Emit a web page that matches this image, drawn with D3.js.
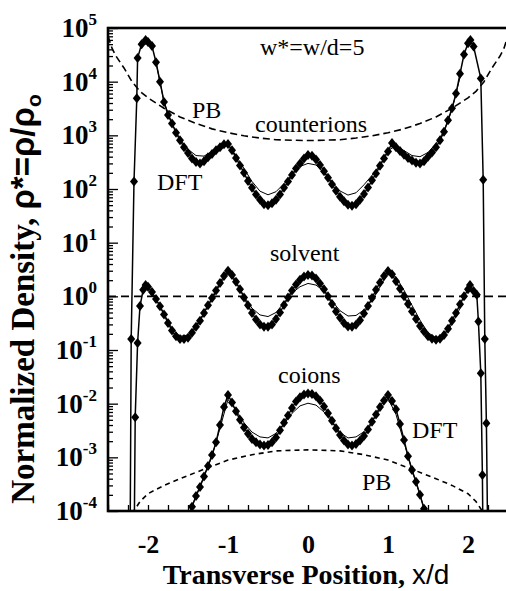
<!DOCTYPE html>
<html>
<head>
<meta charset="utf-8">
<script src="https://cdn.jsdelivr.net/npm/d3@7"></script>
<style>
  body { margin: 0; background: #fff; }
  svg { display: block; }
</style>
</head>
<body>
<div id="chart"></div>
<script>
// counterions, DFT with markers
const ctrX = [-2.225, -2.21, -2.175, -2.14, -2.13, -2.08, -2.03,
  -2.00, -1.95, -1.90, -1.85, -1.80, -1.75, -1.70, -1.65, -1.60, -1.55, -1.50, -1.45, -1.40, -1.35, -1.30,
  -1.25, -1.20, -1.15, -1.10, -1.05, -1.00, -0.95, -0.90, -0.85, -0.80, -0.75, -0.70, -0.65, -0.60, -0.55,
  -0.50, -0.45, -0.40, -0.35, -0.30, -0.25, -0.20, -0.15, -0.10, -0.05, 0.00,
  0.05, 0.10, 0.15, 0.20, 0.25, 0.30, 0.35, 0.40, 0.45, 0.50, 0.55, 0.60, 0.65, 0.70, 0.75, 0.80, 0.85,
  0.90, 0.95, 1.00, 1.05, 1.10, 1.15, 1.20, 1.25, 1.30, 1.35, 1.40, 1.45, 1.50, 1.55, 1.60, 1.65, 1.70,
  1.75, 1.80, 1.85, 1.90, 1.95, 2.00,
  2.03, 2.07, 2.16, 2.19, 2.21, 2.23, 2.25]
const ctrDFT = [1e-5, 0.16, 138, 4900, 2.75e4, 5.0e4, 6.0e4,
  5.5e4, 4.6e4, 2.3e4, 1.0e4, 4200, 2400, 1660, 1120, 810, 600, 470, 370, 320, 300, 330,
  390, 450, 525, 600, 680, 690, 525, 380, 275, 200, 141, 105, 79, 63, 52,
  50, 54, 63, 79, 105, 138, 182, 240, 300, 370, 430,
  415, 355, 280, 215, 162, 123, 93, 72, 59, 51, 49, 52, 63, 81, 107, 145, 195,
  270, 370, 500, 720, 600, 510, 435, 380, 340, 310, 300, 330, 400, 480, 600, 810, 1170,
  1900, 3200, 6000, 1.4e4, 3.2e4, 5.2e4,
  6.0e4, 4.5e4, 1.15e4, 148, 0.16, 4.3e-3, 1e-5]

// solvent, DFT with markers
const solX = [-2.175, -2.16, -2.13, -2.10, -2.06, -2.03,
  -2.00, -1.95, -1.90, -1.85, -1.80, -1.75, -1.70, -1.65, -1.60, -1.55, -1.50, -1.45, -1.40, -1.35, -1.30,
  -1.25, -1.20, -1.15, -1.10, -1.05, -1.00, -0.95, -0.90, -0.85, -0.80, -0.75, -0.70, -0.65, -0.60, -0.55,
  -0.50, -0.45, -0.40, -0.35, -0.30, -0.25, -0.20, -0.15, -0.10, -0.05, 0.00,
  0.05, 0.10, 0.15, 0.20, 0.25, 0.30, 0.35, 0.40, 0.45, 0.50, 0.55, 0.60, 0.65, 0.70, 0.75, 0.80, 0.85,
  0.90, 0.95, 1.00, 1.05, 1.10, 1.15, 1.20, 1.25, 1.30, 1.35, 1.40, 1.45, 1.50, 1.55, 1.60, 1.65, 1.70,
  1.75, 1.80, 1.85, 1.90, 1.95, 2.00,
  2.025, 2.07, 2.11, 2.13, 2.16, 2.18, 2.19]
const solDFT = [1e-5, 5.6e-3, 0.135, 0.66, 1.32, 1.62,
  1.51, 1.20, 0.89, 0.65, 0.46, 0.32, 0.23, 0.18, 0.16, 0.16, 0.17, 0.21, 0.27, 0.35, 0.49,
  0.68, 0.93, 1.29, 1.78, 2.4, 3.0, 2.5, 1.86, 1.35, 0.95, 0.68, 0.49, 0.37, 0.30, 0.27,
  0.27, 0.30, 0.38, 0.50, 0.69, 0.95, 1.29, 1.66, 2.04, 2.34, 2.5,
  2.45, 2.14, 1.74, 1.35, 1.0, 0.72, 0.52, 0.40, 0.32, 0.275, 0.27, 0.295, 0.36, 0.48, 0.66, 0.93, 1.32,
  1.82, 2.4, 2.95, 2.57, 1.9, 1.38, 1.0, 0.72, 0.52, 0.38, 0.28, 0.22, 0.18, 0.162, 0.155, 0.162, 0.19,
  0.25, 0.35, 0.49, 0.71, 1.0, 1.35,
  1.62, 1.26, 1.07, 0.34, 0.037, 4.7e-4, 1e-5]

// coions, DFT with markers
const coX = [-1.50, -1.45, -1.40, -1.35, -1.30, -1.25, -1.20, -1.15, -1.10, -1.05, -1.00,
  -0.95, -0.90, -0.85, -0.80, -0.75, -0.70, -0.65, -0.60, -0.55, -0.50, -0.45, -0.40, -0.35, -0.30,
  -0.25, -0.20, -0.15, -0.10, -0.05, 0.00,
  0.05, 0.10, 0.15, 0.20, 0.25, 0.30, 0.35, 0.40, 0.45, 0.50, 0.55, 0.60, 0.65, 0.70, 0.75,
  0.80, 0.85, 0.90, 0.95, 1.00, 1.05, 1.10, 1.15, 1.20, 1.25, 1.30, 1.35, 1.40, 1.45, 1.50]
const coDFT = [6.3e-5, 1.2e-4, 1.9e-4, 2.8e-4, 4.4e-4, 6.9e-4, 1.1e-3, 1.9e-3, 4.0e-3, 8.7e-3, 1.45e-2,
  1.05e-2, 7.2e-3, 5.0e-3, 3.6e-3, 2.75e-3, 2.2e-3, 1.9e-3, 1.74e-3, 1.66e-3, 1.7e-3, 1.9e-3, 2.35e-3, 3.2e-3, 4.4e-3,
  6.0e-3, 8.3e-3, 1.1e-2, 1.32e-2, 1.48e-2, 1.55e-2,
  1.51e-2, 1.38e-2, 1.15e-2, 8.9e-3, 6.6e-3, 4.8e-3, 3.5e-3, 2.6e-3, 2.05e-3, 1.74e-3, 1.66e-3, 1.78e-3, 2.05e-3, 2.5e-3, 3.3e-3,
  4.6e-3, 6.3e-3, 8.7e-3, 1.15e-2, 1.45e-2, 1.12e-2, 7.9e-3, 4.2e-3, 2.1e-3, 1.05e-3, 5.8e-4, 3.5e-4, 2.0e-4, 1.1e-4, 6.3e-5]

// second DFT result, thin lines without markers
const thinX = [-1.9, -1.8, -1.7, -1.6, -1.5, -1.4, -1.3, -1.2, -1.1, -1.0, -0.9, -0.8, -0.7, -0.6, -0.5,
  -0.4, -0.3, -0.2, -0.1, 0.0, 0.1, 0.2, 0.3, 0.4, 0.5, 0.6, 0.7, 0.8, 0.9, 1.0, 1.1, 1.2, 1.3, 1.4,
  1.5, 1.6, 1.7, 1.8, 1.9]
const ctrThin = [2.3e4, 4200, 1660, 850, 550, 420, 410, 500, 620, 680, 420, 240, 138, 91, 78,
  89, 126, 186, 263, 300, 280, 200, 135, 92, 77, 85, 120, 180, 280, 520, 640, 520, 420, 400,
  480, 700, 1200, 3000, 1.2e4]
const solThin = [0.89, 0.47, 0.25, 0.18, 0.19, 0.28, 0.49, 0.89, 1.66, 2.75, 1.82, 1.0, 0.60, 0.45, 0.42,
  0.50, 0.76, 1.15, 1.51, 1.74, 1.62, 1.25, 0.82, 0.54, 0.43, 0.44, 0.56, 0.85, 1.5, 2.7, 2.3, 1.3, 0.68, 0.36,
  0.21, 0.17, 0.19, 0.30, 0.60]
const coThinX = [-1.5, -1.4, -1.3, -1.2, -1.1, -1.0, -0.9, -0.8, -0.7, -0.6, -0.5, -0.4, -0.3, -0.2, -0.1,
  0.0, 0.1, 0.2, 0.3, 0.4, 0.5, 0.6, 0.7, 0.8, 0.9, 1.0, 1.1, 1.2, 1.3, 1.4, 1.5]
const coThin = [7.9e-5, 1.9e-4, 4.4e-4, 1.05e-3, 3.5e-3, 1.2e-2, 7.6e-3, 4.4e-3, 2.95e-3, 2.4e-3, 2.3e-3, 2.8e-3, 4.2e-3, 6.6e-3, 9.1e-3,
  1.02e-2, 9.4e-3, 7.0e-3, 4.5e-3, 2.9e-3, 2.3e-3, 2.4e-3, 3.0e-3, 4.6e-3, 7.8e-3, 1.25e-2, 6.3e-3, 1.9e-3, 5.8e-4, 2.0e-4, 6.3e-5]

// Poisson-Boltzmann
const pbX = [-2.5, -2.45, -2.4, -2.3, -2.2, -2.1, -2.0, -1.8, -1.6, -1.4, -1.2, -1.0, -0.8, -0.6, -0.4, -0.2, 0,
  0.2, 0.4, 0.6, 0.8, 1.0, 1.2, 1.4, 1.6, 1.8, 2.0, 2.1, 2.2, 2.3, 2.4, 2.45, 2.5]
const ctrPB = [7.1e4, 4.2e4, 3.0e4, 1.8e4, 1.0e4, 6600, 5000, 3200, 2200, 1660, 1320, 1120, 980, 890, 830, 810, 800,
  810, 830, 890, 980, 1120, 1320, 1660, 2200, 3200, 5000, 6600, 1.0e4, 1.8e4, 3.0e4, 4.2e4, 7.1e4]
const solPBX = [-2.5, 2.5]
const solPB = [1, 1]
const coPBX = [-2.2, -2.1, -2.0, -1.8, -1.6, -1.3, -1.0, -0.7, -0.4, 0, 0.4, 0.7, 1.0, 1.3, 1.6, 1.8, 2.0, 2.1, 2.2]
const coPB = [8.9e-5, 1.5e-4, 2.1e-4, 3.0e-4, 4.0e-4, 6.0e-4, 8.9e-4, 1.12e-3, 1.32e-3, 1.38e-3,
  1.32e-3, 1.12e-3, 8.9e-4, 6.0e-4, 4.0e-4, 3.0e-4, 2.1e-4, 1.5e-4, 8.9e-5]

const xTickLabels = ["-2", "-1", "0", "1", "2"]
const xLabelValues = [-2, -1, 0, 1, 2]
const yExponents = [5, 4, 3, 2, 1, 0, -1, -2, -3, -4]

const margin = { top: 28, right: -2, bottom: 80, left: 108 },
  width = 506 - margin.left - margin.right,
  height = 591 - margin.top - margin.bottom

const serif = "'Liberation Serif', 'Times New Roman', serif"
const sans = "'Liberation Sans', Arial, sans-serif"

const svg = d3.select("#chart")
  .append("svg")
    .attr("width", 506)
    .attr("height", 591)
    .style("background", "#fff")
  .append("g")
    .attr("transform", `translate(${margin.left},${margin.top})`)

const x = d3.scaleLinear().domain([-2.5, 2.5]).range([0, width])
const y = d3.scaleLog().domain([1e-4, 1e5]).range([height, 0])

svg.append("clipPath")
    .attr("id", "plot-clip")
  .append("rect")
    .attr("width", width)
    .attr("height", height)

const zip = (xs, ys) => xs.map((v, i) => [v, ys[i]])
const line = d3.line().x(d => x(d[0])).y(d => y(d[1]))

const plot = svg.append("g").attr("clip-path", "url(#plot-clip)")

// PB curves, dashed
const pbSeries = [
  [zip(pbX, ctrPB), "7,4"],
  [zip(solPBX, solPB), "8,5"],
  [zip(coPBX, coPB), "5,4"]
]
plot.selectAll(".pb")
  .data(pbSeries)
  .join("path")
    .attr("class", "pb")
    .attr("d", d => line(d[0]))
    .attr("fill", "none")
    .attr("stroke", "#000")
    .attr("stroke-width", 1.6)
    .attr("stroke-dasharray", d => d[1])

// thin DFT lines
const thinSeries = [zip(thinX, ctrThin), zip(thinX, solThin), zip(coThinX, coThin)]
plot.selectAll(".thin")
  .data(thinSeries)
  .join("path")
    .attr("class", "thin")
    .attr("d", line)
    .attr("fill", "none")
    .attr("stroke", "#000")
    .attr("stroke-width", 1)

// DFT with diamonds
const dftSeries = [zip(ctrX, ctrDFT), zip(solX, solDFT), zip(coX, coDFT)]
plot.selectAll(".dft")
  .data(dftSeries)
  .join("path")
    .attr("class", "dft")
    .attr("d", line)
    .attr("fill", "none")
    .attr("stroke", "#000")
    .attr("stroke-width", 1.5)

plot.selectAll(".marker")
  .data(dftSeries.flat())
  .join("path")
    .attr("class", "marker")
    .attr("transform", d => `translate(${x(d[0])},${y(d[1])})`)
    .attr("d", "M0,-5L4,0L0,5L-4,0Z")
    .attr("fill", "#000")

// axes
const xAxis = svg.append("g")
  .attr("transform", `translate(0,${height})`)
  .call(d3.axisBottom(x)
    .tickValues(d3.range(-2.5, 2.501, 0.25))
    .tickSize(-6)
    .tickSizeOuter(0)
    .tickPadding(24)
    .tickFormat(d => {
      const i = xLabelValues.findIndex(v => Math.abs(v - d) < 1e-6)
      return i < 0 ? "" : xTickLabels[i]
    }))
xAxis.selectAll("text")
  .attr("font-family", serif)
  .attr("font-weight", "bold")
  .attr("font-size", 26)
  .attr("fill", "#000")

const yMinor = []
yExponents.slice(1).forEach(e => d3.range(2, 10).forEach(m => yMinor.push(m * Math.pow(10, e))))

svg.append("g")
  .call(d3.axisLeft(y).tickValues(yMinor).tickSize(-5).tickSizeOuter(0).tickFormat(""))
svg.append("g")
  .call(d3.axisLeft(y).tickValues(yExponents.map(e => Math.pow(10, e))).tickSize(-10).tickSizeOuter(0).tickFormat(""))

svg.selectAll(".tick line").attr("stroke-width", 1.3)
svg.selectAll(".domain").remove()

svg.append("rect")
  .attr("width", width)
  .attr("height", height)
  .attr("fill", "none")
  .attr("stroke", "#000")
  .attr("stroke-width", 2.6)

const yLab = svg.append("g")
  .selectAll("text")
  .data(yExponents)
  .join("text")
    .attr("x", -11)
    .attr("y", e => y(Math.pow(10, e)) + 9)
    .attr("text-anchor", "end")
    .attr("font-family", serif)
    .attr("font-weight", "bold")
    .attr("font-size", 27)
yLab.append("tspan").text("10")
yLab.append("tspan")
  .attr("dy", -12)
  .attr("font-size", 17)
  .text(e => e < 0 ? "-" + Math.abs(e) : e)

// axis titles
const yTitle = svg.append("text")
  .attr("transform", `translate(${34 - margin.left},${299 - margin.top}) rotate(-90)`)
  .attr("text-anchor", "middle")
  .attr("font-weight", "bold")
  .attr("font-size", 33)
yTitle.append("tspan").attr("font-family", serif).text("Normalized Density, ")
yTitle.append("tspan").attr("font-family", sans).text("ρ*=ρ/ρ")
yTitle.append("tspan").attr("font-family", sans).attr("font-size", 21).attr("dy", 7).text("o")

const xTitle = svg.append("text")
  .attr("x", 306 - margin.left)
  .attr("y", 584 - margin.top)
  .attr("text-anchor", "middle")
  .attr("font-size", 28)
xTitle.append("tspan").attr("font-family", serif).attr("font-weight", "bold").text("Transverse Position, ")
xTitle.append("tspan").attr("font-family", sans).text("x/d")

// annotations
const notes = [
  ["w*=w/d=5", 260, 55],
  ["PB", 192, 118],
  ["counterions", 255, 132],
  ["DFT", 157, 190],
  ["solvent", 270, 261],
  ["coions", 278, 383],
  ["DFT", 412, 438],
  ["PB", 362, 490]
]
svg.append("g")
  .selectAll("text")
  .data(notes)
  .join("text")
    .attr("x", d => d[1] - margin.left)
    .attr("y", d => d[2] - margin.top)
    .attr("font-family", serif)
    .attr("font-size", 24)
    .text(d => d[0])
</script>
</body>
</html>
